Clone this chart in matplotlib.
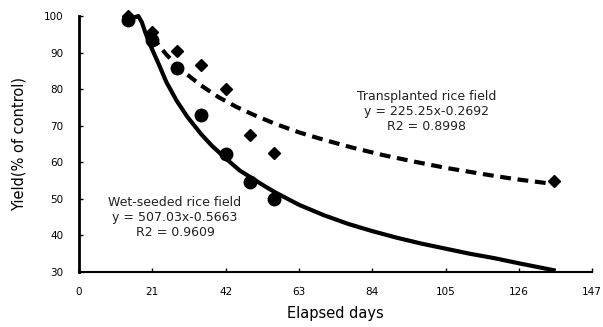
import numpy as np
import matplotlib
matplotlib.use('Agg')
import matplotlib.pyplot as plt

# observed points (elapsed days, yield % of control)
days_wet = [14, 21, 28, 35, 42, 49, 56]
yield_wet = [99, 93.5, 85.8, 72.9, 62.3, 54.7, 49.9]

days_trans = [14, 21, 28, 35, 42, 49, 56, 136]
yield_trans = [100, 95.5, 90.5, 86.6, 80, 67.5, 62.6, 55]

# trend lines
fit_wet_x = [14, 17, 18, 19, 20, 21, 23, 25, 28, 31, 35, 38, 42, 46, 49, 53, 56, 60, 63,
             70, 77, 84, 91, 98, 105, 112, 119, 126, 136]
fit_wet_y = [99, 100, 98.3, 95.5, 93, 90.8, 86.5, 82, 76.8, 72.5, 67.7, 64.6, 61.1, 57.8, 56,
             53.6, 51.9, 49.9, 48.4, 45.6, 43.2, 41.2, 39.4, 37.8, 36.4, 35, 33.8, 32.4, 30.5]

fit_trans_x = [21, 23, 25, 28, 31, 35, 40, 45, 50, 56, 63, 70, 78, 87, 96, 105, 115, 125, 135]
fit_trans_y = [94.5, 91.8, 89.5, 86.5, 84, 81, 77.8, 75.2, 73, 70.6, 68.2, 66.2, 64.1, 62,
               60.2, 58.5, 56.9, 55.4, 54.2]

x_ticks = [0, 21, 42, 63, 84, 105, 126, 147]
y_ticks = [30, 40, 50, 60, 70, 80, 90, 100]

fig = plt.figure(figsize=(6.03, 3.27), dpi=100)
ax = fig.add_axes([0.131, 0.168, 0.851, 0.783])

ax.plot(fit_wet_x, fit_wet_y, color='black', lw=3, solid_joinstyle='round', clip_on=False, zorder=2)
ax.plot(fit_trans_x, fit_trans_y, color='black', lw=3, dashes=(2.6, 1.6), clip_on=False, zorder=2)
ax.plot(days_wet, yield_wet, 'o', color='black', ms=9, clip_on=False, zorder=3)
ax.plot(days_trans, yield_trans, 'D', color='black', ms=6.5, clip_on=False, zorder=3)

ax.text(27.5, 45, 'Wet-seeded rice field\ny = 507.03x-0.5663\nR2 = 0.9609',
        ha='center', va='center', fontsize=9, color='#222222', linespacing=1.2)
ax.text(99.5, 74, 'Transplanted rice field\ny = 225.25x-0.2692\nR2 = 0.8998',
        ha='center', va='center', fontsize=9, color='#222222', linespacing=1.2)

ax.set_xlim(0, 147)
ax.set_ylim(30, 100)
ax.set_xticks(x_ticks)
ax.set_yticks(y_ticks)
ax.tick_params(direction='in', length=3, width=1, labelsize=7.5)
ax.tick_params(axis='x', pad=11)
ax.tick_params(axis='y', pad=11)
ax.set_xlabel('Elapsed days', fontsize=10.5, labelpad=6)
ax.set_ylabel('Yield(% of control)', fontsize=10.5, labelpad=13)

for s in ['top', 'right']:
    ax.spines[s].set_visible(False)
ax.spines['left'].set_linewidth(2)
ax.spines['bottom'].set_linewidth(1.5)

fig.savefig('out.png', dpi=100)
